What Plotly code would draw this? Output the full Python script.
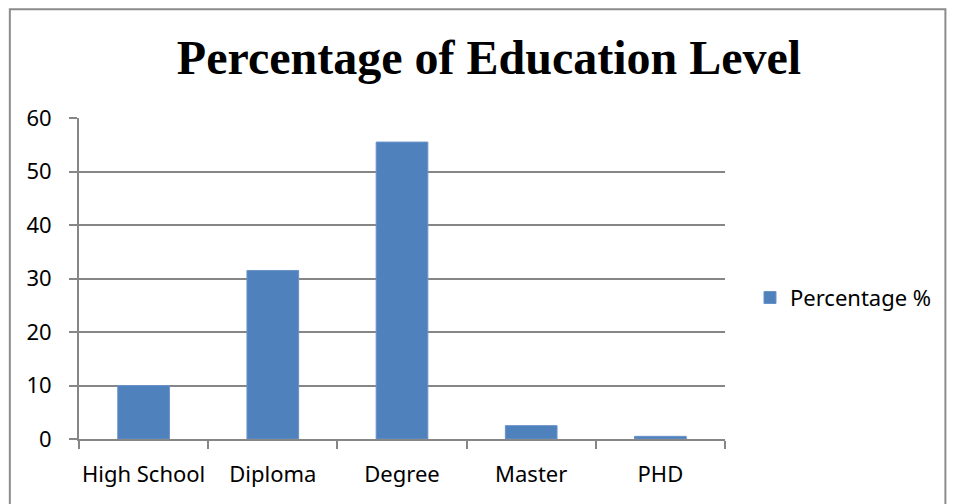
import plotly.graph_objects as go

categories = ["High School", "Diploma", "Degree", "Master", "PHD"]
values = [10, 31.5, 55.5, 2.5, 0.5]
series_name = "Percentage %"
title_text = "Percentage of Education Level"
y_ticks = [0, 10, 20, 30, 40, 50, 60]

W, H = 956, 504
L, R, T, B = 78.7, 231, 118.3, 64.7
pw = W - L - R
ph = H - T - B

def px_to_paper_x(px):
    return (px - L) / pw

def px_to_paper_y(py):
    return (H - B - py) / ph

axis_col = "#868686"
tick_font = dict(family="Noto Sans", size=22, color="#000000")

fig = go.Figure()
fig.add_trace(go.Bar(
    x=categories, y=values, name=series_name,
    marker=dict(color="#4F81BD", line=dict(color="#6A93C8", width=1)),
    showlegend=True,
))

fig.update_layout(
    width=W, height=H,
    margin=dict(l=L, r=R, t=T, b=B, autoexpand=False),
    paper_bgcolor="white", plot_bgcolor="white",
    bargap=0.6,
    title=dict(text="<b>" + title_text + "</b>", x=489 / W, xanchor="center",
               y=1 - 57 / H, yanchor="middle",
               font=dict(family="Liberation Serif", size=48, color="#000000")),
    showlegend=True,
    legend=dict(x=px_to_paper_x(750), xanchor="left", y=px_to_paper_y(298), yanchor="middle",
                font=tick_font, bgcolor="rgba(0,0,0,0)"),
    xaxis=dict(showline=True, linecolor=axis_col, linewidth=2, ticks="outside",
               tickson="boundaries", ticklen=8, tickcolor=axis_col, tickwidth=2,
               tickfont=tick_font, showgrid=False, fixedrange=True, tickangle=0,
               automargin=False, ticklabelstandoff=15),
    yaxis=dict(range=[0, 60], tickvals=y_ticks, showline=True, linecolor=axis_col, linewidth=2,
               ticks="outside", ticklen=8, tickcolor=axis_col, tickwidth=2,
               showgrid=True, gridcolor=axis_col, gridwidth=2, zeroline=False,
               tickfont=tick_font, ticklabelstandoff=13, automargin=False),
    shapes=[dict(type="rect", xref="paper", yref="paper",
                 x0=px_to_paper_x(9.5), x1=px_to_paper_x(945.5),
                 y0=px_to_paper_y(520), y1=px_to_paper_y(9.5),
                 line=dict(color="#8c8c8c", width=2), fillcolor="rgba(0,0,0,0)",
                 layer="below")],
)

fig.write_html("out.html")
